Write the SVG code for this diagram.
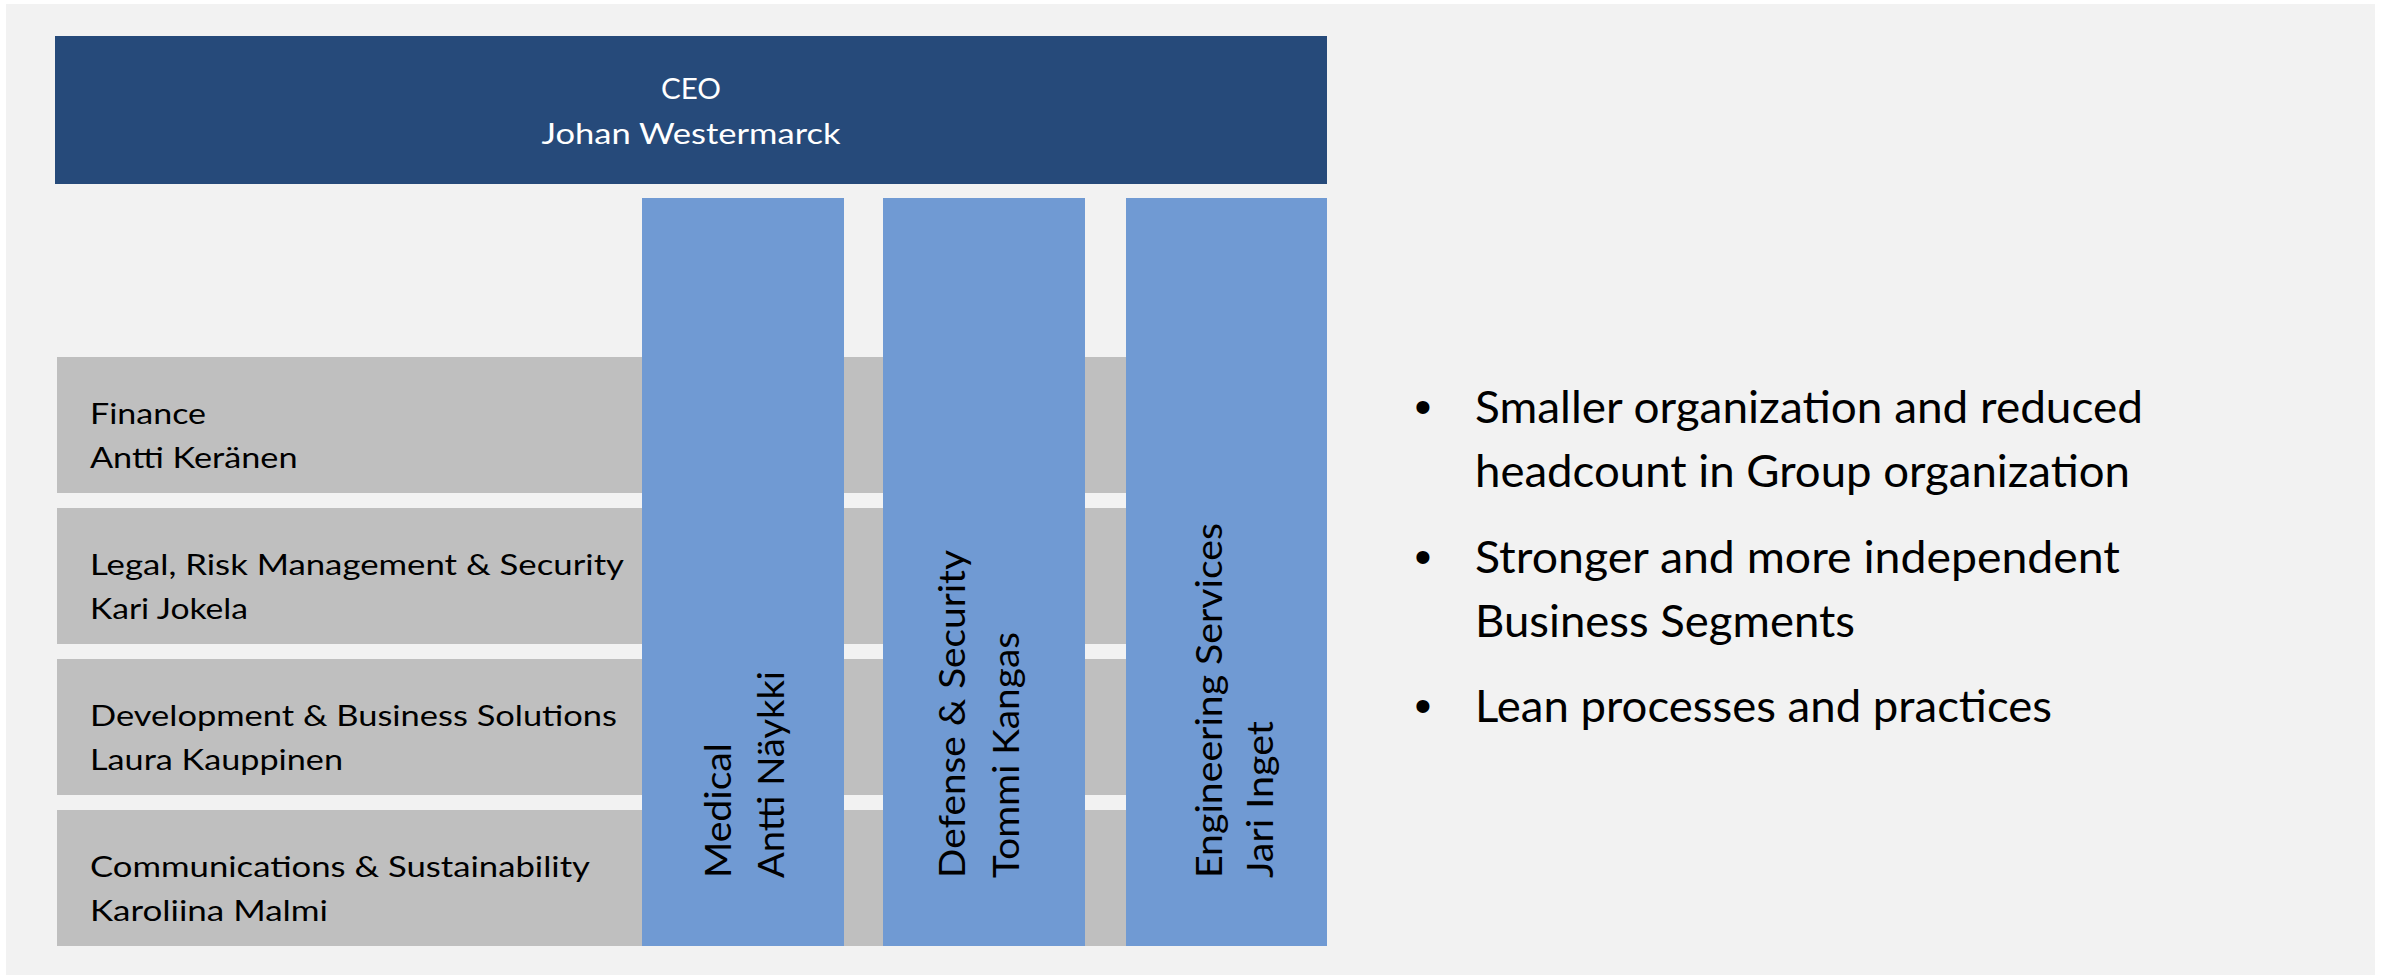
<svg xmlns="http://www.w3.org/2000/svg" width="2384" height="975" viewBox="0 0 2384 975">
<style>
  .bg { fill: #F2F2F2; }
  .ceo { fill: #264A7A; }
  .row { fill: #BFBFBF; }
  .col { fill: #709AD3; }
  .t { font-family: Lato, "Open Sans", "Liberation Sans", sans-serif; fill: #000000; }
  .rt { font-size: 29.5px; }
  .ct { font-size: 29.5px; fill: #FFFFFF; text-anchor: middle; }
  .vt { font-size: 37px; }
  .bt { font-size: 44px; }
  .bul { font-family: "Liberation Sans", Arial, sans-serif; font-size: 48px; fill: #000000; text-anchor: middle; }
</style>
<rect x="0" y="0" width="2384" height="975" fill="#FFFFFF"/>
<rect class="bg" x="6" y="4" width="2369" height="971"/>

<g id="ceo">
  <rect class="ceo" x="55" y="36" width="1272" height="148"/>
  <text class="t ct" x="691" y="99" textLength="60" lengthAdjust="spacingAndGlyphs">CEO</text>
  <text class="t ct" x="691" y="143.5" textLength="299" lengthAdjust="spacingAndGlyphs">Johan Westermarck</text>
</g>

<g id="finance">
  <rect class="row" x="57" y="357" width="1100" height="136"/>
  <text class="t rt" x="90" y="424.3" textLength="116" lengthAdjust="spacingAndGlyphs">Finance</text>
  <text class="t rt" x="90" y="468.3" textLength="207.5" lengthAdjust="spacingAndGlyphs">Antti Keränen</text>
</g>

<g id="legal">
  <rect class="row" x="57" y="508" width="1100" height="136"/>
  <text class="t rt" x="90" y="575.3" textLength="534" lengthAdjust="spacingAndGlyphs">Legal, Risk Management &amp; Security</text>
  <text class="t rt" x="90" y="619.3" textLength="158" lengthAdjust="spacingAndGlyphs">Kari Jokela</text>
</g>

<g id="development">
  <rect class="row" x="57" y="659" width="1100" height="136"/>
  <text class="t rt" x="90" y="726.3" textLength="527" lengthAdjust="spacingAndGlyphs">Development &amp; Business Solutions</text>
  <text class="t rt" x="90" y="770.3" textLength="253" lengthAdjust="spacingAndGlyphs">Laura Kauppinen</text>
</g>

<g id="communications">
  <rect class="row" x="57" y="810" width="1100" height="136"/>
  <text class="t rt" x="90" y="877.3" textLength="500" lengthAdjust="spacingAndGlyphs">Communications &amp; Sustainability</text>
  <text class="t rt" x="90" y="921.3" textLength="238" lengthAdjust="spacingAndGlyphs">Karoliina Malmi</text>
</g>

<g id="medical">
  <rect class="col" x="642" y="198" width="202" height="748"/>
  <text class="t vt" x="731" y="878" transform="rotate(-90 731 878)" textLength="135" lengthAdjust="spacingAndGlyphs">Medical</text>
  <text class="t vt" x="783.5" y="878" transform="rotate(-90 783.5 878)" textLength="207" lengthAdjust="spacingAndGlyphs">Antti Näykki</text>
</g>

<g id="defense">
  <rect class="col" x="883" y="198" width="202" height="748"/>
  <text class="t vt" x="965" y="878" transform="rotate(-90 965 878)" textLength="328" lengthAdjust="spacingAndGlyphs">Defense &amp; Security</text>
  <text class="t vt" x="1018.5" y="878" transform="rotate(-90 1018.5 878)" textLength="246" lengthAdjust="spacingAndGlyphs">Tommi Kangas</text>
</g>

<g id="engineering">
  <rect class="col" x="1126" y="198" width="201" height="748"/>
  <text class="t vt" x="1221.5" y="878" transform="rotate(-90 1221.5 878)" textLength="355" lengthAdjust="spacingAndGlyphs">Engineering Services</text>
  <text class="t vt" x="1272.5" y="878" transform="rotate(-90 1272.5 878)" textLength="157" lengthAdjust="spacingAndGlyphs">Jari Inget</text>
</g>

<g id="bullets">
  <text class="bul" x="1423" y="423">•</text>
  <text class="t bt" x="1475" y="423" textLength="668" lengthAdjust="spacingAndGlyphs">Smaller organization and reduced</text>
  <text class="t bt" x="1475" y="487" textLength="655" lengthAdjust="spacingAndGlyphs">headcount in Group organization</text>
  <text class="bul" x="1423" y="572.5">•</text>
  <text class="t bt" x="1475" y="572.5" textLength="645" lengthAdjust="spacingAndGlyphs">Stronger and more independent</text>
  <text class="t bt" x="1475" y="636.5" textLength="380" lengthAdjust="spacingAndGlyphs">Business Segments</text>
  <text class="bul" x="1423" y="721.5">•</text>
  <text class="t bt" x="1475" y="721.5" textLength="577" lengthAdjust="spacingAndGlyphs">Lean processes and practices</text>
</g>
</svg>
